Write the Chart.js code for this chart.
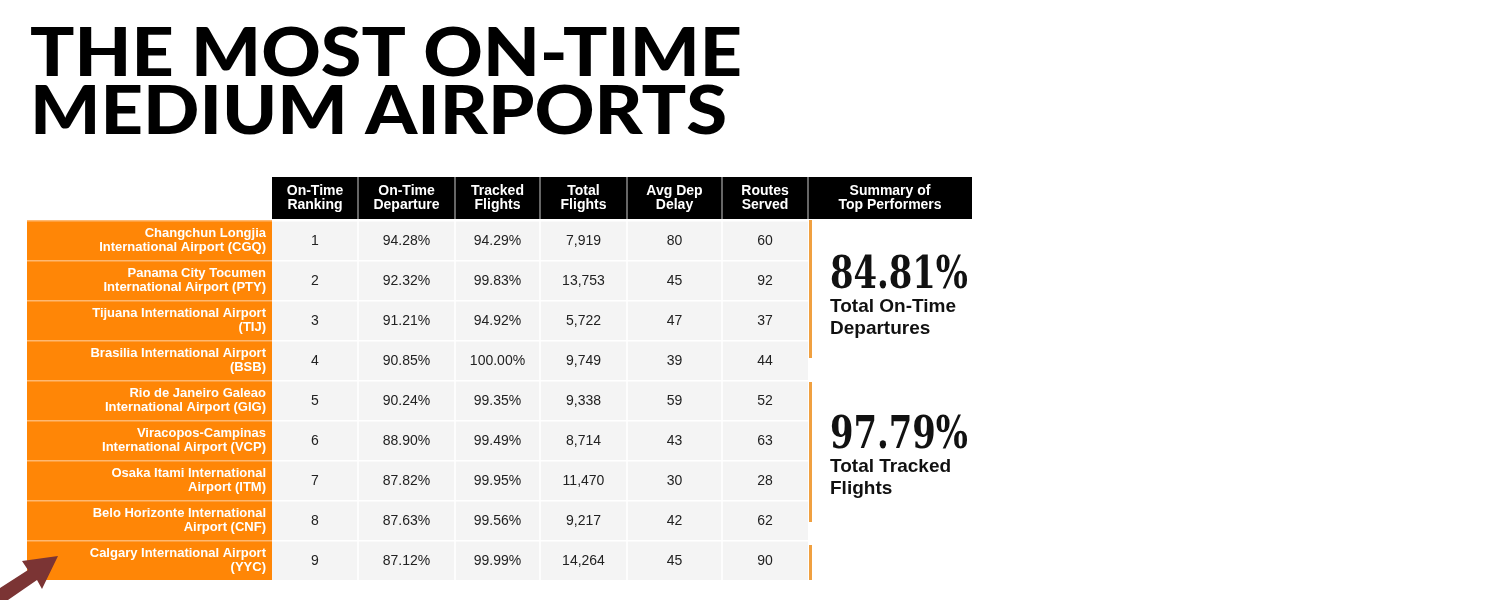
<!DOCTYPE html>
<html>
<head>
<meta charset="utf-8">
<script src="https://cdn.jsdelivr.net/npm/chart.js@4.4.1/dist/chart.umd.min.js"></script>
<style>
html,body{margin:0;padding:0;background:#fff;}
canvas{display:block;}
</style>
</head>
<body>
<canvas id="table-chart" width="1500" height="600"></canvas>
<script>
// Data
const titleLines = ["THE MOST ON-TIME","MEDIUM AIRPORTS"];
const headers = [["On-Time","Ranking"],["On-Time","Departure"],["Tracked","Flights"],["Total","Flights"],["Avg Dep","Delay"],["Routes","Served"]];
const airports = [
    ["Changchun Longjia","International Airport (CGQ)"],
    ["Panama City Tocumen","International Airport (PTY)"],
    ["Tijuana International Airport","(TIJ)"],
    ["Brasilia International Airport","(BSB)"],
    ["Rio de Janeiro Galeao","International Airport (GIG)"],
    ["Viracopos-Campinas","International Airport (VCP)"],
    ["Osaka Itami International","Airport (ITM)"],
    ["Belo Horizonte International","Airport (CNF)"],
    ["Calgary International Airport","(YYC)"]
];
const ranking = ["1","2","3","4","5","6","7","8","9"];
const onTimeDeparture = ["94.28%","92.32%","91.21%","90.85%","90.24%","88.90%","87.82%","87.63%","87.12%"];
const trackedFlights = ["94.29%","99.83%","94.92%","100.00%","99.35%","99.49%","99.95%","99.56%","99.99%"];
const totalFlights = ["7,919","13,753","5,722","9,749","9,338","8,714","11,470","9,217","14,264"];
const avgDepDelay = ["80","45","47","39","59","43","30","42","45"];
const routesServed = ["60","92","37","44","52","63","28","62","90"];
const summaryHeader = ["Summary of","Top Performers"];
const summaryValues = ["84.81%","97.79%"];
const summaryLabels = [["Total On-Time","Departures"],["Total Tracked","Flights"]];

// Layout (column edges on the x scale)
const colEdges = [27,272,358,455,540,627,722,808,972];
const columns = [ranking,onTimeDeparture,trackedFlights,totalFlights,avgDepDelay,routesServed];
const ORANGE = "#ff8606";

const tablePlugin = {
    id:"tablePlugin",
    afterDraw(chart){
        const ctx = chart.ctx, xs = chart.scales.x, ys = chart.scales.y;
        const px = v=>xs.getPixelForValue(v);
        const rowH = Math.abs(ys.getPixelForValue(1)-ys.getPixelForValue(0));
        ctx.save();

        // title
        ctx.fillStyle="#000";
        ctx.textBaseline="alphabetic";
        ctx.font="900 66px Lato, 'Liberation Sans', sans-serif";
        titleLines.forEach((t,i)=>{
            const w = ctx.measureText(t).width;
            const target = i===0 ? 712 : 697;
            ctx.save();
            ctx.translate(30, 76+i*58);
            ctx.scale(target/w, 1.0);
            ctx.fillText(t,0,0);
            ctx.restore();
        });

        // header
        const hTop = ys.getPixelForValue(0)-rowH/2-43, hBot = ys.getPixelForValue(0)-rowH/2-1;
        ctx.fillStyle="#000";
        ctx.fillRect(px(colEdges[1]),hTop,px(colEdges[8])-px(colEdges[1]),hBot-hTop);
        ctx.strokeStyle="#888"; ctx.lineWidth=1.5;
        for(let c=2;c<8;c++){ ctx.beginPath(); ctx.moveTo(px(colEdges[c]),hTop); ctx.lineTo(px(colEdges[c]),hBot); ctx.stroke(); }
        ctx.fillStyle="#fff"; ctx.textAlign="center"; ctx.textBaseline="middle";
        ctx.font="bold 14px 'Liberation Sans', Arial, sans-serif";
        const hdrs = headers.concat([summaryHeader]);
        hdrs.forEach((h,i)=>{
            const cx=(px(colEdges[i+1])+px(colEdges[i+2]))/2;
            ctx.fillText(h[0],cx,(hTop+hBot)/2-7);
            ctx.fillText(h[1],cx,(hTop+hBot)/2+7);
        });

        // rows
        airports.forEach((a,r)=>{
            const cy = ys.getPixelForValue(r), top = cy-rowH/2;
            ctx.fillStyle=ORANGE;
            ctx.fillRect(px(colEdges[0]),top,px(colEdges[1])-px(colEdges[0]),rowH);
            ctx.fillStyle="#f4f4f4";
            ctx.fillRect(px(colEdges[1]),top,px(colEdges[7])-px(colEdges[1]),rowH);
            ctx.fillStyle="#ffb870";
            ctx.fillRect(px(colEdges[0]),top,px(colEdges[1])-px(colEdges[0]),1.5);
            ctx.fillStyle="#fff";
            ctx.fillRect(px(colEdges[1]),top,px(colEdges[7])-px(colEdges[1]),1.5);
            for(let c=2;c<7;c++) ctx.fillRect(px(colEdges[c])-0.75,top,1.5,rowH);
            ctx.fillStyle="#fff"; ctx.textAlign="right";
            ctx.font="bold 13px 'Liberation Sans', Arial, sans-serif";
            ctx.fillText(a[0],px(colEdges[1])-6,cy-7);
            ctx.fillText(a[1],px(colEdges[1])-6,cy+7);
            ctx.fillStyle="#222"; ctx.textAlign="center";
            ctx.font="14px 'Liberation Sans', Arial, sans-serif";
            columns.forEach((col,c)=>{
                ctx.fillText(col[r],(px(colEdges[c+1])+px(colEdges[c+2]))/2,cy+1);
            });
        });

        // summary bars
        ctx.fillStyle="#f0a040";
        const yEdge = i=>ys.getPixelForValue(i)-rowH/2;
        const sx = px(colEdges[7])+1;
        ctx.fillRect(sx,yEdge(0),3,yEdge(3)+18-yEdge(0));
        ctx.fillRect(sx,yEdge(4)+2,3,yEdge(7)+22-yEdge(4)-2);
        ctx.fillRect(sx,yEdge(8)+5,3,yEdge(9)-yEdge(8)-5);

        // summary text
        ctx.textAlign="left"; ctx.textBaseline="alphabetic"; ctx.fillStyle="#111";
        const sumY=[ys.getPixelForValue(1)+8, ys.getPixelForValue(5)+8];
        summaryValues.forEach((v,i)=>{
            ctx.font="bold 44px 'DejaVu Serif', 'Liberation Serif', serif";
            const w=ctx.measureText(v).width;
            ctx.save(); ctx.translate(830,sumY[i]); ctx.scale(138/w,1); ctx.fillText(v,0,0); ctx.restore();
            ctx.font="bold 19px 'Liberation Sans', Arial, sans-serif";
            ctx.fillText(summaryLabels[i][0],830,sumY[i]+24);
            ctx.fillText(summaryLabels[i][1],830,sumY[i]+46);
        });

        // arrow
        ctx.fillStyle="#7b3434";
        ctx.beginPath();
        ctx.moveTo(0,588); ctx.lineTo(28,570); ctx.lineTo(22,561); ctx.lineTo(58,556);
        ctx.lineTo(42,589); ctx.lineTo(37,580); ctx.lineTo(8,600); ctx.lineTo(0,600);
        ctx.closePath(); ctx.fill();
        ctx.restore();
    }
};

const ctx = document.getElementById("table-chart").getContext("2d");
new Chart(ctx,{
    type:"scatter",
    data:{
        labels:airports.map(a=>a.join(" ")),
        datasets:[{data:[],pointRadius:0}]
    },
    options:{
        responsive:false,
        animation:false,
        devicePixelRatio:1,
        layout:{padding:{left:27,right:528,top:220,bottom:20}},
        plugins:{legend:{display:false},tooltip:{enabled:false}},
        scales:{
            x:{type:"linear",min:colEdges[0],max:colEdges[8],display:false},
            y:{type:"category",labels:airports.map(a=>a.join(" ")),offset:true,display:false}
        }
    },
    plugins:[tablePlugin]
});
</script>
</body>
</html>
